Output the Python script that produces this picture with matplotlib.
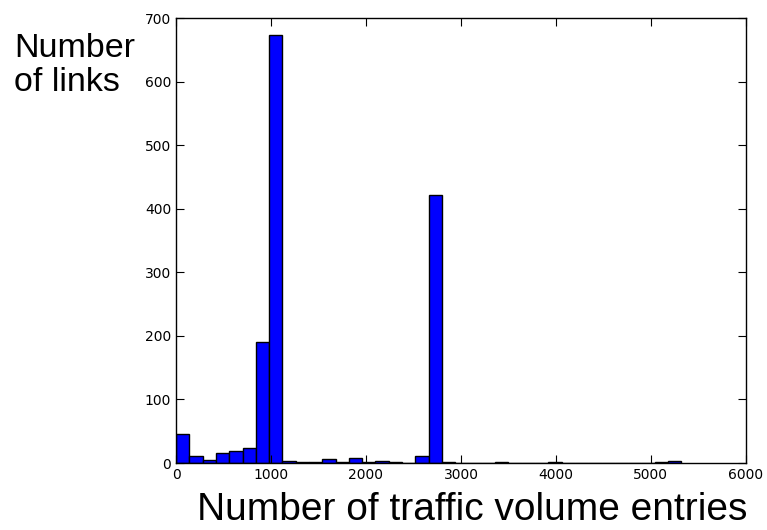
import numpy as np
import matplotlib
matplotlib.use('Agg')
import matplotlib.pyplot as plt

# histogram bin counts (bin width ~140 entries)
bin_width = 140
counts = [46, 11, 4, 15, 19, 24, 190, 673, 3, 2, 2, 6, 1, 8, 1, 3, 1, 0, 11, 421,
          1, 0, 0, 0, 1, 0, 0, 0, 1, 0, 0, 0, 0, 0, 0, 0, 1, 3]
edges = np.arange(len(counts)) * bin_width

fig = plt.figure(figsize=(7.67, 5.30), dpi=100)
ax = fig.add_axes([0.2295, 0.1264, 0.743, 0.8396])

ax.bar(edges, counts, width=bin_width, align='edge',
       color='#0000ff', edgecolor='black', linewidth=1.0)

ax.set_xlim(0, 6000)
ax.set_ylim(0, 700)
ax.set_xticks(range(0, 6001, 1000))
ax.set_yticks(range(0, 701, 100))
ax.tick_params(direction='in', top=True, right=True, length=6, labelsize=10)
for s in ax.spines.values():
    s.set_linewidth(1.0)

# axis titles placed as figure text, like the original
fig.text(0.615, 0.019, 'Number of traffic volume entries', fontsize=28,
         family='Liberation Sans', ha='center', va='baseline')
fig.text(0.018, 0.937, 'Number\nof links', fontsize=24.5, family='Liberation Sans',
         va='top', ha='left', linespacing=1.12)

fig.savefig('out.png', dpi=100)
